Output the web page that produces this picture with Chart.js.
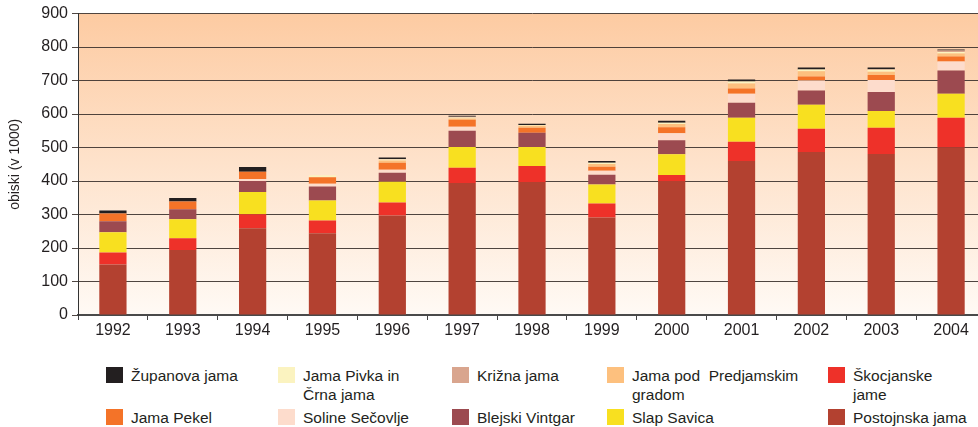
<!DOCTYPE html>
<html>
<head>
<meta charset="utf-8">
<script src="https://cdn.jsdelivr.net/npm/chart.js@4.4.1/dist/chart.umd.min.js"></script>
<style>
  html, body { margin: 0; padding: 0; background: #fff; overflow: hidden; }
  body { width: 978px; height: 427px; position: relative; font-family: "Liberation Sans", Arial, sans-serif; }
  #wrap { position: absolute; left: 0; top: 0; width: 986px; height: 345px; }
  .leg { position: absolute; font-size: 15.5px; line-height: 19px; color: #231f20; }
  .leg i { position: absolute; left: 0; top: 1px; width: 17px; height: 16px; }
  .leg span { position: absolute; left: 25px; top: 0; white-space: nowrap; }
</style>
</head>
<body>
<div id="wrap"><canvas id="obiskiChart" width="986" height="345"></canvas></div>
<div id="legend"></div>
<script>
// data (obiski v 1000)
const years = ['1992', '1993', '1994', '1995', '1996', '1997', '1998', '1999', '2000', '2001', '2002', '2003', '2004'];
const postojnska = [151, 194, 259, 244, 297, 394, 397, 291, 400, 460, 487, 481, 500];
const skocjanske = [36, 35, 42, 38, 39, 46, 48, 42, 18, 57, 69, 78, 89];
const slapSavica = [60, 57, 66, 60, 62, 62, 57, 57, 62, 72, 72, 50, 72];
const blejski = [33, 30, 33, 42, 27, 48, 42, 29, 42, 45, 42, 57, 69];
const soline = [0, 0, 6, 8, 9, 12, 0, 12, 21, 27, 30, 36, 27];
const pekel = [23, 23, 22, 19, 21, 21, 15, 12, 18, 15, 12, 15, 15];
const predjama = [0, 0, 0, 0, 6, 4, 6, 8, 9, 15, 16, 9, 9];
const pivka = [0, 0, 0, 6, 3, 3, 2, 4, 4, 6, 5, 6, 4];
const krizna = [0, 0, 0, 0, 2, 2, 0, 0, 0, 0, 0, 2, 5];
const zupanova = [9, 10, 14, 0, 4, 3, 4, 5, 6, 6, 6, 5, 3];
const yTicks = [0, 100, 200, 300, 400, 500, 600, 700, 800, 900];

// od spodaj navzgor
const series = [
    { label: 'Postojnska jama', data: postojnska, color: '#b34130' },
    { label: 'Škocjanske jame', data: skocjanske, color: '#ee3129' },
    { label: 'Slap Savica', data: slapSavica, color: '#f8e020' },
    { label: 'Blejski Vintgar', data: blejski, color: '#9c4a50' },
    { label: 'Soline Sečovlje', data: soline, color: '#fddccc' },
    { label: 'Jama Pekel', data: pekel, color: '#f47328' },
    { label: 'Jama pod  Predjamskim gradom', data: predjama, color: '#fdc07e' },
    { label: 'Jama Pivka in Črna jama', data: pivka, color: '#fbf3c0' },
    { label: 'Križna jama', data: krizna, color: '#d9a58e' },
    { label: 'Županova jama', data: zupanova, color: '#231f20' }
];

// ozadje z gradientom
const bgPlugin = {
    id: 'bgGradient',
    beforeDraw(chart) {
        const { ctx, chartArea: a } = chart;
        const g = ctx.createLinearGradient(0, a.top, 0, a.bottom);
        g.addColorStop(0, 'rgb(253,203,162)');
        g.addColorStop(1, 'rgb(255,250,245)');
        ctx.save();
        ctx.fillStyle = g;
        ctx.fillRect(a.left, a.top, a.right - a.left, a.bottom - a.top);
        ctx.restore();
    }
};

const ctx = document.getElementById('obiskiChart').getContext('2d');
const obiskiChart = new Chart(ctx, {
    type: 'bar',
    data: {
        labels: years,
        datasets: series.map(s => ({
            label: s.label,
            data: s.data,
            backgroundColor: s.color,
            borderWidth: 0,
            barPercentage: 0.39,
            categoryPercentage: 1
        }))
    },
    options: {
        responsive: false,
        animation: false,
        layout: { padding: { top: 8, right: 0, left: 0, bottom: 0 } },
        plugins: { legend: { display: false }, tooltip: { enabled: false } },
        scales: {
            x: {
                stacked: true,
                grid: { display: true, drawOnChartArea: false, drawTicks: true, tickLength: 5, color: '#444' },
                border: { color: '#4a4a4a', width: 2 },
                ticks: { color: '#231f20', font: { family: 'Liberation Sans', size: 16 }, padding: 1 },
                afterFit(scale) { scale.height = 30; }
            },
            y: {
                stacked: true,
                min: 0,
                max: 900,
                afterBuildTicks(scale) { scale.ticks = yTicks.map(v => ({ value: v })); },
                grid: { color: 'rgba(60,50,45,0.9)', lineWidth: 1, drawTicks: true, tickLength: 6 },
                border: { color: '#333', width: 1 },
                ticks: { color: '#231f20', font: { family: 'Liberation Sans', size: 16 }, padding: 4 },
                title: { display: true, text: 'obiski (v 1000)', color: '#231f20', font: { family: 'Liberation Sans', size: 14 }, padding: { top: 7, bottom: 0 } },
                afterFit(scale) { scale.width = 78; }
            }
        }
    },
    plugins: [bgPlugin]
});

// legenda (5 stolpcev, 2 vrstici)
const legendRows = [
    ['Županova jama', 'Jama Pivka in<br>Črna jama', 'Križna jama', 'Jama pod&nbsp; Predjamskim<br>gradom', 'Škocjanske<br>jame'],
    ['Jama Pekel', 'Soline Sečovlje', 'Blejski Vintgar', 'Slap Savica', 'Postojnska jama']
];
const legendNames = [
    ['Županova jama', 'Jama Pivka in Črna jama', 'Križna jama', 'Jama pod  Predjamskim gradom', 'Škocjanske jame'],
    ['Jama Pekel', 'Soline Sečovlje', 'Blejski Vintgar', 'Slap Savica', 'Postojnska jama']
];
const colX = [106, 278, 452, 607, 828];
const rowY = [366, 408];
let html = '';
legendRows.forEach((row, r) => {
    row.forEach((txt, c) => {
        const s = series.find(d => d.label === legendNames[r][c]);
        html += `<div class="leg" style="left:${colX[c]}px;top:${rowY[r]}px"><i style="background:${s.color}"></i><span>${txt}</span></div>`;
    });
});
document.getElementById('legend').innerHTML = html;
</script>
</body>
</html>
